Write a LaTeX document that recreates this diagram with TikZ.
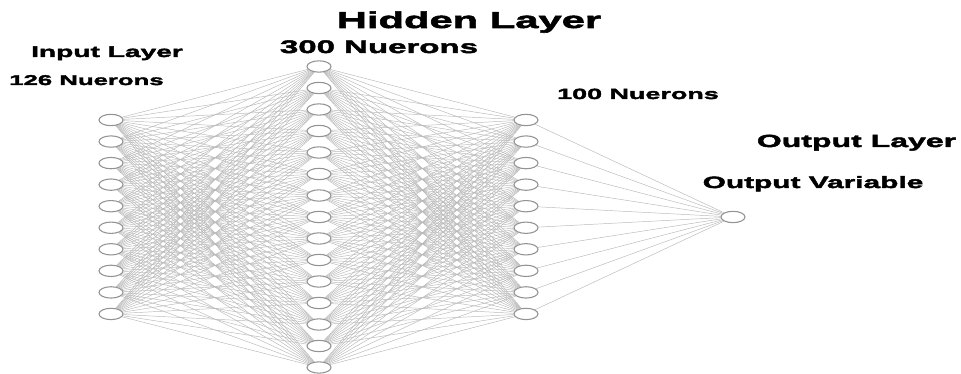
\documentclass[tikz,border=0pt]{standalone}
\usepackage{fontspec}
\newfontfamily\lblfont[FakeStretch=1.82,BoldFeatures={FakeBold=2.6}]{Liberation Sans}
\usetikzlibrary{shapes.geometric,backgrounds}

\begin{document}
\begin{tikzpicture}[x=0.75pt,y=-0.75pt,
  neuron/.style={draw=gray!85,fill=white,ellipse,minimum width=18pt,
    minimum height=8.5pt,inner sep=0pt,line width=0.8pt},
  link/.style={draw=gray!55,line width=0.35pt},
  lbl/.style={font=\lblfont\bfseries\fontsize{#1}{#1}\selectfont,inner sep=0pt,anchor=base}]
\useasboundingbox (0,0) rectangle (961,374);
% neurons
\foreach \k in {1,...,10}{
  \node[neuron] (in\k) at (111,{120+(\k-1)*21.55}) {};
  \node[neuron] (hb\k) at (526,{120+(\k-1)*21.55}) {};
}
\foreach \k in {1,...,15}
  \node[neuron] (ha\k) at (319,{66.5+(\k-1)*21.5}) {};
\node[neuron] (out) at (733,217) {};
% connections
\begin{scope}[on background layer]
\foreach \a in {1,...,10}{
  \foreach \b in {1,...,15}{
    \draw[link] (in\a) -- (ha\b);
    \draw[link] (ha\b) -- (hb\a);
  }
  \draw[link] (hb\a) -- (out);
}
\end{scope}
% labels
\node[lbl=17.2] (hidden) at (469,28) {Hidden Layer};
\node[lbl=13.6] (hacount) at (379,53) {300 Nuerons};
\node[lbl=11.6] (input) at (107,57) {Input Layer};
\node[lbl=10.6] (incount) at (86.5,85) {126 Nuerons};
\node[lbl=11.1] (hbcount) at (638,99) {100 Nuerons};
\node[lbl=13.2] (output) at (856.5,147) {Output Layer};
\node[lbl=12.3] (outvar) at (813,188) {Output Variable};
\end{tikzpicture}
\end{document}
